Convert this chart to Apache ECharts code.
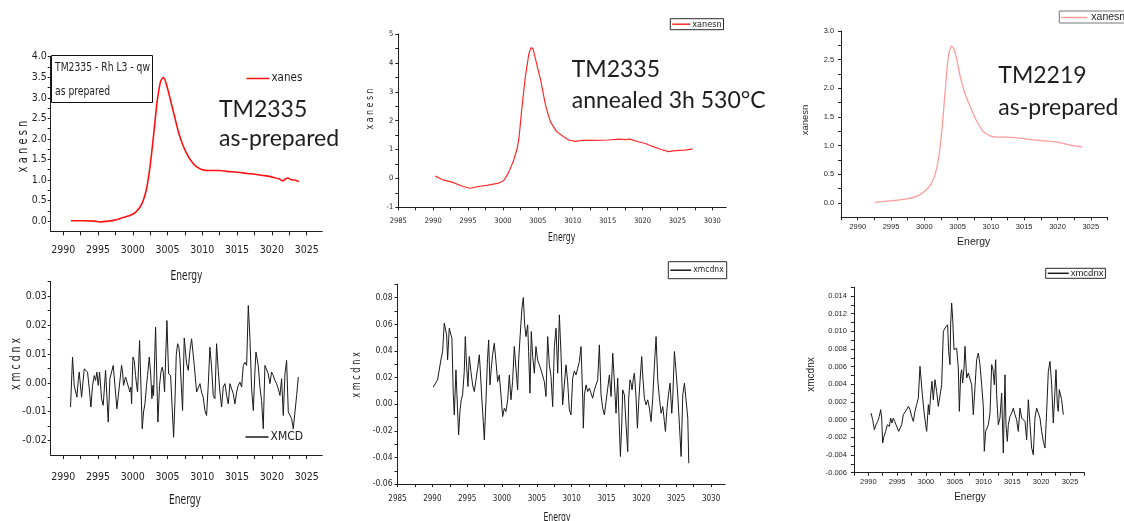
<!DOCTYPE html>
<html>
<head>
<meta charset="utf-8">
<title>Rh L3 XANES / XMCD</title>
<script src="https://cdn.jsdelivr.net/npm/echarts@6.0.0/dist/echarts.min.js"></script>
<style>
  html, body { margin: 0; padding: 0; background: #ffffff; }
  #chart { width: 1124px; height: 521px; }
</style>
</head>
<body>
<div id="chart"></div>
<script>
// ---------- measured spectra ----------
// TM2335 as prepared: normalised XANES
const xanesAsPrepE = [2991.1,2993,2994.5,2995.3,2996.5,2997.5,2998.5,2999.5,3000.3,3001.0,3001.5,3002.0,3002.5,3003.0,3003.5,3004.0,3004.4,3004.8,3005.3,3006.0,3006.6,3007.3,3008.0,3008.6,3009.2,3010.0,3011.0,3012.5,3013.5,3015.0,3016.5,3018.0,3019.2,3020.3,3021.0,3021.6,3022.0,3022.3,3022.7,3023.0,3023.3,3023.9];
const xanesAsPrepV = [0.01,0.01,0.0,-0.02,0.0,0.03,0.08,0.13,0.2,0.33,0.5,0.8,1.35,2.1,2.9,3.4,3.5,3.35,3.03,2.55,2.15,1.81,1.57,1.42,1.32,1.25,1.23,1.23,1.21,1.19,1.16,1.13,1.10,1.06,1.03,0.98,1.03,1.05,1.01,1.0,1.0,0.96];

// TM2335 annealed 3h 530°C: normalised XANES
const xanesAnnealE = [2990.3,2991.3,2992.7,2994.2,2995.3,2996.5,2997.9,2999.4,3000.1,3000.8,3001.5,3002.0,3002.3,3002.7,3003.2,3003.7,3004.0,3004.3,3004.6,3005.4,3006.1,3006.8,3007.7,3008.7,3009.4,3010.4,3011.3,3013.2,3015.1,3016.6,3017.5,3018.2,3019.4,3020.4,3021.3,3022.7,3023.7,3024.7,3026.1,3027.2];
const xanesAnnealV = [0.08,-0.04,-0.13,-0.27,-0.34,-0.28,-0.23,-0.16,-0.08,0.2,0.6,1.0,1.4,2.4,3.5,4.3,4.52,4.5,4.2,3.4,2.54,1.96,1.62,1.44,1.33,1.28,1.32,1.32,1.33,1.36,1.34,1.36,1.27,1.21,1.12,1.0,0.93,0.96,0.98,1.02];

// TM2219 as prepared: normalised XANES
const xanes2219E = [2992.6,2994.9,2997.4,2998.9,3000.0,3000.9,3001.6,3002.1,3002.6,3003.1,3003.6,3004.1,3004.6,3005.4,3006.1,3006.9,3007.9,3008.9,3009.9,3010.9,3012.4,3014.4,3016.4,3018.4,3019.9,3021.9,3023.7];
const xanes2219V = [0.01,0.035,0.07,0.12,0.2,0.31,0.49,0.75,1.22,1.91,2.55,2.74,2.64,2.2,1.91,1.68,1.42,1.24,1.17,1.15,1.15,1.13,1.1,1.08,1.06,1.01,0.98];

// TM2335 as prepared: XMCD
const xmcdAsPrepE = [2991.05,2991.34,2991.58,2991.97,2992.16,2992.30,2992.64,2993.02,2993.21,2993.50,
  2993.79,2993.98,2994.22,2994.46,2994.65,2994.84,2995.03,2995.23,2995.51,2995.75,
  2996.09,2996.47,2996.71,2997.19,2997.43,2997.72,2998.39,2998.53,2998.68,2998.96,
  2999.20,2999.59,2999.73,2999.83,3000.02,3000.21,3000.40,3000.59,3000.69,3000.98,
  3001.36,3001.55,3001.75,3001.98,3002.13,3002.37,3002.56,3002.75,3002.90,3002.99,
  3003.28,3003.61,3003.85,3004.05,3004.24,3004.38,3004.57,3004.91,3005.15,3005.44,
  3005.87,3006.06,3006.25,3006.44,3006.63,3006.78,3007.16,3007.40,3007.74,3007.98,
  3008.22,3008.46,3008.84,3009.18,3009.42,3009.66,3009.89,3010.13,3010.37,3010.61,
  3010.85,3011.09,3011.33,3011.57,3011.81,3012.05,3012.29,3012.53,3012.77,3013.01,
  3013.25,3013.49,3013.73,3013.97,3014.21,3014.45,3014.69,3014.93,3015.17,3015.41,
  3015.65,3015.89,3016.13,3016.37,3016.61,3016.85,3017.09,3017.33,3017.56,3017.71,
  3018.04,3018.28,3018.52,3018.76,3019.00,3019.24,3019.48,3019.72,3019.96,3020.20,
  3020.44,3020.68,3020.92,3021.16,3021.40,3021.64,3021.88,3022.12,3022.36,3022.60,
  3022.84,3023.08,3023.32,3023.56,3023.80];
const xmcdAsPrepV = [-0.0084,0.0089,-0.0009,-0.005,0.0008,0.0037,-0.005,0.0048,0.0054,0.0037,
  -0.0032,-0.0084,-0.0009,0.0025,0.0008,0.0037,-0.0009,0.0037,-0.0055,-0.0078,
  0.0043,-0.0136,0.0014,0.006,0.0066,-0.009,0.006,0.0037,-0.0009,0.002,
  0.0025,-0.0032,-0.0015,-0.0073,0.0089,0.0077,0.0025,-0.0015,-0.0032,0.0146,
  -0.0159,-0.0101,-0.0073,-0.0009,0.0025,0.0089,0.0037,-0.0055,-0.0009,-0.0044,
  0.0192,-0.0136,-0.0009,0.0037,0.0054,0.0037,-0.0032,0.0215,0.0031,0.0025,
  -0.0188,-0.0067,0.0094,0.0135,0.0123,0.0083,-0.0096,0.0155,0.0066,0.0043,
  0.0112,0.0152,0.006,-0.0032,-0.0026,-0.0003,-0.0032,-0.005,-0.0096,-0.0113,
  -0.0009,0.0123,0.0054,-0.0044,-0.0055,0.0135,0.0043,-0.0032,-0.0084,-0.0015,
  -0.0003,-0.0044,-0.0073,-0.0003,-0.0009,-0.0038,-0.0073,-0.0032,-0.0009,0.0002,
  -0.0015,0.006,0.0071,0.006,0.0267,0.0152,-0.0021,-0.0096,0.0037,0.0106,
  0.006,-0.0015,-0.0061,-0.0159,0.006,0.0054,0.0031,-0.0003,0.0037,0.0025,
  0.0008,-0.0003,-0.0021,-0.0044,0.0014,-0.0113,0.0031,0.0077,-0.0101,-0.0107,
  -0.0124,-0.0159,-0.0101,-0.0044,0.002];

// TM2335 annealed: XMCD
const xmcdAnnealE = [2990.13,2990.75,2991.23,2991.47,2991.71,2991.85,2992.05,2992.19,2992.43,2992.67,
  2992.81,2993.00,2993.15,2993.39,2993.53,2993.77,2993.96,2994.15,2994.34,2994.58,
  2994.73,2994.92,2995.11,2995.30,2995.54,2995.78,2996.02,2996.26,2996.50,2996.74,
  2996.88,2997.07,2997.31,2997.46,2997.69,2997.89,2998.08,2998.27,2998.46,2998.65,
  2998.89,2999.13,2999.37,2999.61,2999.85,3000.09,3000.33,3000.57,3000.81,3001.05,
  3001.28,3001.52,3001.76,3002.00,3002.24,3002.39,3002.58,3002.86,3003.06,3003.25,
  3003.44,3003.68,3003.82,3004.01,3004.20,3004.40,3004.64,3004.87,3005.11,3005.35,
  3005.59,3005.83,3006.07,3006.31,3006.55,3006.79,3007.03,3007.27,3007.51,3007.75,
  3007.99,3008.23,3008.47,3008.70,3008.94,3009.18,3009.42,3009.66,3009.90,3010.14,
  3010.38,3010.62,3010.86,3011.10,3011.34,3011.58,3011.67,3011.82,3012.06,3012.29,
  3012.53,3012.77,3013.01,3013.25,3013.49,3013.73,3013.97,3014.21,3014.45,3014.69,
  3014.93,3015.17,3015.41,3015.65,3015.89,3016.12,3016.36,3016.60,3016.84,3016.99,
  3017.18,3017.32,3017.56,3017.80,3018.04,3018.18,3018.37,3018.52,3018.66,3018.85,
  3019.00,3019.24,3019.43,3019.62,3019.86,3020.05,3020.19,3020.43,3020.67,3020.91,
  3021.15,3021.39,3021.63,3021.87,3022.11,3022.35,3022.59,3022.83,3023.07,3023.30,
  3023.45,3023.64,3023.88,3024.12,3024.36,3024.50,3024.74,3024.98,3025.22,3025.46,
  3025.70,3025.94,3026.18,3026.42,3026.66,3026.80];
const xmcdAnnealV = [0.0128,0.0183,0.0333,0.0396,0.0609,0.0621,0.0521,0.0333,0.0571,0.0521,
  0.0496,0.0083,-0.008,0.0258,0.007,-0.023,-0.0055,0.0033,0.007,0.0245,
  0.0508,0.0283,0.0133,0.0358,0.0245,0.0145,0.0095,0.0095,0.027,0.0371,
  0.0258,0.007,-0.013,-0.0268,0.002,0.0308,0.0483,0.0145,0.027,0.0371,
  0.0458,0.0321,0.017,0.022,0.007,-0.0093,-0.003,-0.0055,0.0033,0.022,
  0.0033,0.017,0.0433,0.0421,0.0108,0.0333,0.0496,0.0721,0.0801,0.0596,
  0.0508,0.0596,0.0396,0.0083,0.0546,0.0358,0.0233,0.0433,0.0333,0.0296,
  0.0258,0.027,0.017,0.0058,0.0508,0.0296,0.0208,-0.0018,0.0433,0.0571,
  0.0233,0.0671,0.0371,-0.0005,0.0145,0.0296,0.017,-0.0043,-0.008,0.0195,
  0.025,0.022,0.027,0.0321,0.0433,0.0045,-0.018,0.007,0.0145,0.0095,
  0.012,0.0083,0.0045,0.0108,0.0095,0.0183,0.0446,0.007,-0.003,-0.008,
  0.002,0.012,0.022,0.0058,0.0383,0.017,-0.0068,0.0195,-0.018,-0.0393,
  -0.0155,0.0108,0.007,-0.0155,-0.0356,0.0045,0.0183,0.0158,0.0108,0.0195,
  0.0233,0.0045,-0.018,0.002,0.022,0.0358,0.022,0.0045,-0.0005,0.0033,
  -0.003,-0.013,0.0045,0.0296,0.0508,0.0183,0.0045,-0.0068,-0.0018,-0.013,
  -0.0205,-0.0055,0.007,0.0158,-0.0068,0.0045,0.0396,0.0245,0.007,-0.0155,
  -0.0393,0.007,0.0158,0.0145,-0.0105,-0.0443];

// TM2219 as prepared: XMCD
const xmcd2219E = [2990.47,2990.76,2991.05,2991.34,2991.63,2991.91,2992.15,2992.32,2992.49,2992.72,
  2993.01,2993.30,2993.48,2993.65,2993.88,2994.11,2994.34,2994.57,2994.81,2995.04,
  2995.27,2995.50,2995.79,2996.08,2996.37,2996.66,2996.95,2997.24,2997.52,2997.81,
  2998.10,2998.39,2998.68,2998.97,2999.14,2999.38,2999.66,2999.95,3000.13,3000.42,
  3000.59,3000.82,3001.05,3001.28,3001.57,3001.86,3002.15,3002.44,3002.73,3003.02,
  3003.31,3003.60,3003.77,3003.94,3004.18,3004.29,3004.46,3004.64,3004.87,3005.10,
  3005.33,3005.62,3005.80,3006.03,3006.20,3006.37,3006.61,3006.78,3007.07,3007.36,
  3007.65,3007.94,3008.22,3008.51,3008.80,3009.09,3009.38,3009.67,3009.96,3010.13,
  3010.36,3010.60,3010.83,3011.12,3011.41,3011.64,3011.87,3012.10,3012.27,3012.56,
  3012.85,3013.14,3013.43,3013.72,3013.89,3014.12,3014.30,3014.59,3014.88,3015.17,
  3015.45,3015.74,3016.03,3016.32,3016.61,3016.90,3017.19,3017.48,3017.77,3018.06,
  3018.35,3018.63,3018.92,3019.21,3019.50,3019.79,3020.08,3020.37,3020.66,3020.95,
  3021.24,3021.53,3021.82,3022.10,3022.39,3022.57,3022.80,3022.97,3023.15,3023.38,
  3023.55,3023.84];
const xmcd2219V = [0.00075,0,-0.00113,-0.00057,-0.00019,0.00038,0.00113,0.00019,-0.00264,-0.00189,
  -0.00132,-0.00057,-0.00038,-0.00075,0.00019,-0.00038,0.00019,-0.00019,-0.00038,-0.00094,
  -0.00132,-0.00132,-0.00057,0.00057,0.00075,0.00113,0.00151,0.00113,0.00038,-0.00019,
  0.00094,0.0017,0.00245,0.00604,0.00472,0.00283,0.00094,-0.00057,-0.00132,0.0017,
  0.00057,0.00283,0.00434,0.00226,0.00453,0.00321,0.00151,0.0017,0.00396,0.01,
  0.01038,0.01019,0.01075,0.00774,0.00623,0.01075,0.01321,0.01151,0.00792,0.00811,
  0.00811,0.00585,0.00094,0.00509,0.00566,0.00415,0.00585,0.0083,0.00472,0.00528,
  0.00547,0.00396,0.00057,0.00038,0.00679,0.00755,0.00623,0.00396,0.00151,-0.00358,
  -0.00132,-0.00094,-0.00057,0.00075,0.00623,0.00566,0.00396,0.00679,0.00283,-0.00057,
  0.00019,0.00302,-0.00377,0.00509,-0.00057,-0.00245,-0.00057,0.00038,0.00075,0.00132,
  0.00057,0,-0.00132,0.00132,0.00019,0.00019,-0.00019,-0.00226,0.00226,-0.00057,
  -0.00321,-0.00396,0.00019,0.00132,0.00113,0.00019,-0.00132,-0.00245,-0.00321,0.00094,
  0.00547,0.0066,0.00396,-0.00038,0.00321,0.00566,0.0017,0.00094,0.0034,0.00358,
  0.00226,0.00057];

// ---------- tick labels ----------
const energyLabelsShort = [2990, 2995, 3000, 3005, 3010, 3015, 3020, 3025];
const energyLabelsLong  = [2985, 2990, 2995, 3000, 3005, 3010, 3015, 3020, 3025, 3030];
const xanesAsPrepLabels = [0, 0.5, 1, 1.5, 2, 2.5, 3, 3.5, 4];
const xanesAnnealLabels = [-1, 0, 1, 2, 3, 4, 5];
const xanes2219Labels   = [0, 0.5, 1, 1.5, 2, 2.5, 3];
const xmcdAsPrepLabels  = [-0.02, -0.01, 0, 0.01, 0.02, 0.03];
const xmcdAnnealLabels  = [-0.06, -0.04, -0.02, 0, 0.02, 0.04, 0.06, 0.08];
const xmcd2219Labels    = [-0.006, -0.004, -0.002, 0, 0.002, 0.004, 0.006, 0.008, 0.010, 0.012, 0.014];

// ---------- helpers ----------
const NARROW = "'DejaVu Sans Condensed', 'Liberation Sans Narrow', sans-serif";
const SANS = "'Liberation Sans', Arial, sans-serif";
const CAL = "Lato, 'Open Sans', sans-serif";
const INK = '#1e1e1e';

function steps(a, b, d) {
  const out = [];
  const n = Math.round((b - a) / d);
  for (let i = 0; i <= n; i++) out.push(+(a + i * d).toFixed(6));
  return out;
}
function zip(xs, ys) {
  return xs.map((x, i) => [x, ys[i]]);
}

// one panel = one grid + one pair of value axes
const panels = [
  { // TM2335 as prepared, XANES
    grid: { left: 50.7, top: 56.7, width: 271.6, height: 174.7 },
    x: { min: 2988.2, max: 3027.25, ticks: steps(2990, 3025, 2.5), labels: energyLabelsShort, font: NARROW, size: 10.5, margin: 13, tick: 4 },
    y: { min: -0.25, max: 4.0, ticks: steps(0, 4, 0.25), labels: xanesAsPrepLabels, digits: 1, font: NARROW, size: 10.5, margin: 4, tick: 3 }
  },
  { // TM2335 annealed, XANES
    grid: { left: 398.3, top: 34, width: 327.9, height: 173.3 },
    x: { min: 2985, max: 3032, ticks: steps(2985, 3030, 2.5), labels: energyLabelsLong, font: NARROW, size: 7.5, margin: 10, tick: 3 },
    y: { min: -1, max: 5, ticks: steps(-1, 5, 0.5), labels: xanesAnnealLabels, digits: 0, font: NARROW, size: 7.5, margin: 5, tick: 3 }
  },
  { // TM2219 as prepared, XANES
    grid: { left: 841.1, top: 31, width: 266.3, height: 186.3 },
    x: { min: 2987.5, max: 3027.5, ticks: steps(2987.5, 3027.5, 2.5), labels: energyLabelsShort, font: SANS, size: 7.5, margin: 6, tick: 3 },
    y: { min: -0.25, max: 3.0, ticks: steps(0, 3, 0.25), labels: xanes2219Labels, digits: 1, font: SANS, size: 7.5, margin: 7, tick: 3 }
  },
  { // TM2335 as prepared, XMCD
    grid: { left: 50.7, top: 281.5, width: 271.6, height: 173.6 },
    x: { min: 2988.2, max: 3027.25, ticks: steps(2990, 3025, 2.5), labels: energyLabelsShort, font: NARROW, size: 10.5, margin: 17, tick: 4 },
    y: { min: -0.025, max: 0.035, ticks: steps(-0.02, 0.035, 0.005), labels: xmcdAsPrepLabels, digits: 2, font: NARROW, size: 10.5, margin: 4, tick: 3 }
  },
  { // TM2335 annealed, XMCD
    grid: { left: 397.5, top: 284.4, width: 327.5, height: 199.7 },
    x: { min: 2985, max: 3032, ticks: steps(2985, 3030, 2.5), labels: energyLabelsLong, font: NARROW, size: 8, margin: 11, tick: 3 },
    y: { min: -0.06, max: 0.09, ticks: steps(-0.06, 0.09, 0.01), labels: xmcdAnnealLabels, digits: 2, font: NARROW, size: 8.5, margin: 5, tick: 3 }
  },
  { // TM2219 as prepared, XMCD
    grid: { left: 853.9, top: 287.2, width: 230.5, height: 185.5 },
    x: { min: 2987.5, max: 3027.5, ticks: steps(2987.5, 3027.5, 2.5), labels: energyLabelsShort, font: SANS, size: 7.5, margin: 5.5, tick: 3 },
    y: { min: -0.006, max: 0.015, ticks: steps(-0.006, 0.015, 0.001), labels: xmcd2219Labels, digits: 3, font: SANS, size: 7.5, margin: 7, tick: 3 }
  }
];

const axisLineStyle = { color: INK, width: 1 };

const grids = panels.map(p => Object.assign({ containLabel: false }, p.grid));
const xAxes = panels.map((p, i) => ({
  type: 'value', gridIndex: i, min: p.x.min, max: p.x.max,
  axisLine: { show: true, onZero: false, lineStyle: axisLineStyle },
  axisTick: { show: true, inside: false, length: p.x.tick, lineStyle: axisLineStyle, customValues: p.x.ticks },
  axisLabel: {
    show: true, customValues: p.x.labels, margin: p.x.margin,
    fontSize: p.x.size, fontFamily: p.x.font, color: INK,
    formatter: v => String(Math.round(v))
  },
  splitLine: { show: false }, minorTick: { show: false }
}));
const yAxes = panels.map((p, i) => ({
  type: 'value', gridIndex: i, min: p.y.min, max: p.y.max,
  axisLine: { show: true, onZero: false, lineStyle: axisLineStyle },
  axisTick: { show: true, inside: false, length: p.y.tick, lineStyle: axisLineStyle, customValues: p.y.ticks },
  axisLabel: {
    show: true, customValues: p.y.labels, margin: p.y.margin,
    fontSize: p.y.size, fontFamily: p.y.font, color: INK,
    formatter: v => (p.y.digits === 0 ? String(Math.round(v)) : (+v).toFixed(p.y.digits))
  },
  splitLine: { show: false }, minorTick: { show: false }
}));

function lineSeries(name, idx, xs, ys, color, width, smooth) {
  return {
    name: name, type: 'line', xAxisIndex: idx, yAxisIndex: idx,
    data: zip(xs, ys), color: color,
    showSymbol: false, symbol: 'none', smooth: smooth,
    lineStyle: { color: color, width: width },
    emphasis: { disabled: true }, animation: false
  };
}

const series = [
  lineSeries('TM2335 xanes', 0, xanesAsPrepE, xanesAsPrepV, '#ff1010', 1.6, 0.25),
  lineSeries('TM2335 annealed xanesn', 1, xanesAnnealE, xanesAnnealV, '#ff2a2a', 1.2, false),
  lineSeries('TM2219 xanesn', 2, xanes2219E, xanes2219V, '#ff9c9c', 1.3, 0.25),
  lineSeries('TM2335 XMCD', 3, xmcdAsPrepE, xmcdAsPrepV, '#1a1a1a', 1, false),
  lineSeries('TM2335 annealed xmcdnx', 4, xmcdAnnealE, xmcdAnnealV, '#1a1a1a', 1, false),
  lineSeries('TM2219 xmcdnx', 5, xmcd2219E, xmcd2219V, '#1a1a1a', 1, false)
];

function legendFor(seriesName, text, left, top, opts) {
  return Object.assign({
    data: [seriesName], left: left, top: top, orient: 'horizontal',
    icon: 'rect', itemWidth: 20, itemHeight: 1.5, itemGap: 0,
    selectedMode: false, formatter: () => text,
    textStyle: { fontFamily: NARROW, fontSize: 12, color: INK, padding: [0, 0, 0, -3] },
    padding: 0, borderWidth: 0
  }, opts || {});
}

const legends = [
  legendFor('TM2335 xanes', 'xanes', 246.5, 72.5, { itemWidth: 23, textStyle: { fontFamily: NARROW, fontSize: 11.5, color: INK, padding: [0, 0, 0, -3] } }),
  legendFor('TM2335 annealed xanesn', 'xanesn', 670.3, 18.7, {
    itemWidth: 18, padding: [1, 2, 1, 2], borderWidth: 1, borderColor: '#2a2a2a',
    textStyle: { fontFamily: NARROW, fontSize: 9, color: INK, padding: [0, 0, 0, -3] }
  }),
  legendFor('TM2219 xanesn', 'xanesn', 1059.3, 11, {
    itemWidth: 26, padding: [1, 6, 0, 2], borderWidth: 1, borderColor: '#777',
    textStyle: { fontFamily: SANS, fontSize: 10.5, color: INK, padding: [0, 0, 0, -1] }
  }),
  legendFor('TM2335 XMCD', 'XMCD', 245.5, 431, { itemWidth: 23, textStyle: { fontFamily: NARROW, fontSize: 12, color: INK, padding: [0, 0, 0, -3] } }),
  legendFor('TM2335 annealed xmcdnx', 'xmcdnx', 668.3, 261.7, {
    itemWidth: 21, padding: [4, 3, 4, 2], borderWidth: 1, borderColor: '#2a2a2a',
    textStyle: { fontFamily: NARROW, fontSize: 8.5, color: INK, padding: [0, 0, 0, -3] }
  }),
  legendFor('TM2219 xmcdnx', 'xmcdnx', 1045.7, 268.3, {
    itemWidth: 21, padding: [0, 2, 0, 2], borderWidth: 1, borderColor: '#2a2a2a',
    textStyle: { fontFamily: SANS, fontSize: 9.5, color: INK, padding: [0, 0, 0, -3] }
  })
];

// axis titles and sample notes; sx squeezes a text along its own baseline
function label(text, x, y, size, family, rotate, align, sx) {
  return {
    type: 'text', x: x, y: y, rotation: rotate ? Math.PI / 2 : 0,
    scaleX: sx || 1, scaleY: 1, silent: true,
    style: { text: text, fontSize: size, fontFamily: family, fill: INK,
             align: align || 'center', verticalAlign: 'middle' }
  };
}

const graphics = [
  // axis titles
  label('Energy', 186.5, 276.7, 13.5, NARROW, false, 'center', 0.75),
  label('x a n e s n', 23.3, 146.5, 13.5, NARROW, true, 'center', 0.82),
  label('Energy', 561.7, 238, 11.5, NARROW, false, 'center', 0.75),
  label('x a n e s n', 370, 109, 11, NARROW, true, 'center', 0.8),
  label('Energy', 973.7, 241.7, 10.5, SANS),
  label('xanesn', 805, 120, 9.5, SANS, true),
  label('Energy', 185, 500, 13.5, NARROW, false, 'center', 0.75),
  label('x m c d n x', 16.5, 364, 13.5, NARROW, true, 'center', 0.77),
  label('Energy', 557, 518, 11.5, NARROW, false, 'center', 0.75),
  label('x m c d n x', 357, 375, 11.5, NARROW, true, 'center', 0.79),
  label('Energy', 970, 497.7, 10, SANS),
  label('xmcdnx', 811.7, 374.5, 10, SANS, true),

  // boxed sample tag in the first panel
  { type: 'rect', silent: true, shape: { x: 51.5, y: 55.5, width: 101, height: 47 },
    style: { fill: 'rgba(0,0,0,0)', stroke: '#111', lineWidth: 1 } },
  label('TM2335 - Rh L3 - qw', 55, 67.5, 12.5, NARROW, false, 'left', 0.82),
  label('as prepared', 55, 91.5, 12.5, NARROW, false, 'left', 0.82),

  // sample notes
  label('TM2335', 219, 109.5, 23, CAL, false, 'left'),
  label('as-prepared', 219, 138.7, 23, CAL, false, 'left'),
  label('TM2335', 571.7, 69.5, 23, CAL, false, 'left'),
  label('annealed 3h 530°C', 571.7, 100.7, 23, CAL, false, 'left'),
  label('TM2219', 998.3, 75.2, 23, CAL, false, 'left'),
  label('as-prepared', 998.3, 107.5, 23, CAL, false, 'left')
];

const chart = echarts.init(document.getElementById('chart'), null, { renderer: 'canvas' });
chart.setOption({
  backgroundColor: '#ffffff',
  animation: false,
  tooltip: { show: false },
  grid: grids,
  xAxis: xAxes,
  yAxis: yAxes,
  legend: legends,
  series: series,
  graphic: graphics
});
</script>
</body>
</html>
